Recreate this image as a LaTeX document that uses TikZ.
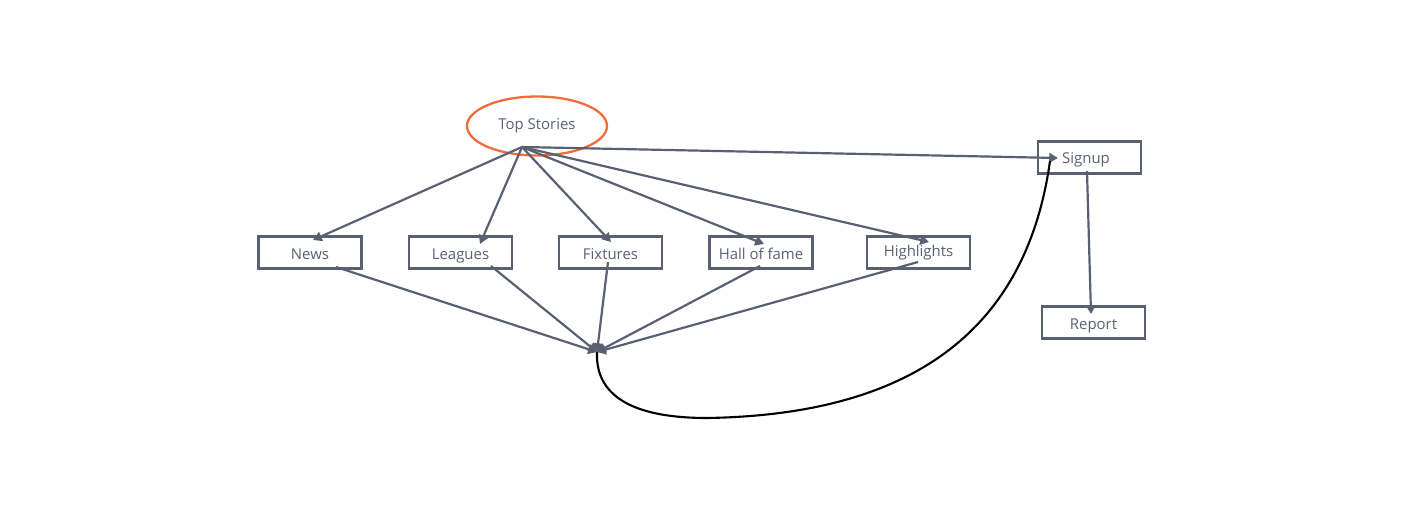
\documentclass[tikz,border=0pt]{standalone}
\usepackage{fontspec}
\setmainfont{Open Sans}
\usetikzlibrary{arrows.meta,shapes.geometric,calc}
\definecolor{edge}{HTML}{5A6072}
\definecolor{txt}{HTML}{5A6072}
\definecolor{orng}{HTML}{F26B3A}
\tikzset{
  box/.style={draw=edge,line width=1.3pt,minimum width=2.06cm,minimum height=0.64cm,inner sep=0pt,text height=7.6pt,text depth=0pt,text=txt,font=\fontsize{8.5}{10}\selectfont},
  oval/.style={ellipse,draw=orng,line width=1.3pt,minimum width=2.8cm,minimum height=1.18cm,inner sep=0pt,text=txt,font=\fontsize{8.5}{10}\selectfont},
  conn/.style={draw=edge,line width=1.25pt,-{Triangle[length=5pt,width=5.5pt]}},
  curv/.style={draw=black,line width=1.2pt}
}
\begin{document}
\begin{tikzpicture}[x=0.02cm,y=-0.02cm]
\useasboundingbox (0,0) rectangle (1404,513);
\node[oval] (ts) at (537,126) {Top Stories};
\node[box] (news) at (310,252.5) {News};
\node[box] (leagues) at (460.5,252.5) {Leagues};
\node[box] (fixtures) at (610.5,252.5) {Fixtures};
\node[box] (hof) at (761,252.5) {Hall of fame};
\node[box,text height=5pt] (high) at (918.5,252.5) {Highlights};
\node[box,text height=6.5pt] (signup) at (1089.5,157.5) {\hspace*{-4pt}Signup};
\node[box] (report) at (1093.5,322.5) {Report};
\coordinate (tsh) at (522,147);
\coordinate (hub) at (597,352);
% arrow tips
\coordinate (newsT) at (313,240);
\coordinate (leaguesT) at (480,244);
\coordinate (fixT) at (611,242);
\coordinate (hofT) at (764,244);
\coordinate (highT) at (929,242);
\coordinate (signT) at (1058,158);
\coordinate (repT) at (1091,314);
% tails
\coordinate (newsS) at (336,267);
\coordinate (leaguesS) at (491,266);
\coordinate (fixS) at (608,262);
\coordinate (hofS) at (760,266);
\coordinate (highS) at (918,262);
\coordinate (signS) at (1087,171);
\coordinate (signC) at (1050,161);
\draw[conn] (tsh) -- (newsT);
\draw[conn] (tsh) -- (leaguesT);
\draw[conn] (tsh) -- (fixT);
\draw[conn] (tsh) -- (hofT);
\draw[conn] (tsh) -- (highT);
\draw[conn] (tsh) -- (signT);
\draw[conn] (newsS) -- (hub);
\draw[conn] (leaguesS) -- (hub);
\draw[conn] (fixS) -- (hub);
\draw[conn] (hofS) -- (hub);
\draw[conn] (highS) -- (hub);
\draw[conn] (signS) -- (repT);
\draw[curv] (hub) .. controls (595,400) and (640,418) .. (707,418)
  .. controls (900,415) and (1025,340) .. (signC);
\end{tikzpicture}
\end{document}
